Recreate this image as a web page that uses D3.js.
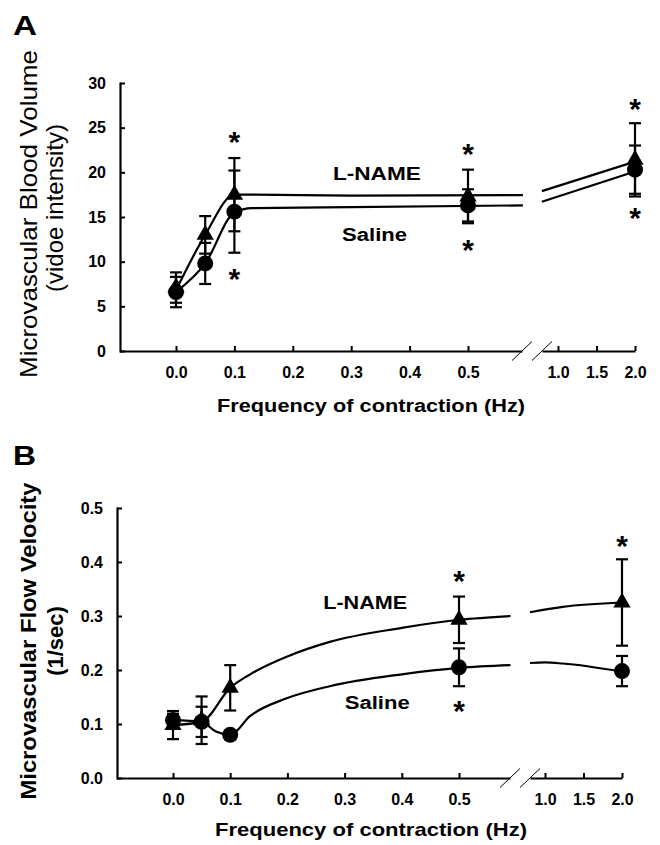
<!DOCTYPE html>
<html>
<head>
<meta charset="utf-8">
<script src="https://cdn.jsdelivr.net/npm/d3@7"></script>
<style>
  html, body { margin: 0; padding: 0; background: #fff; }
  svg { display: block; }
</style>
</head>
<body>
<svg id="chart" width="660" height="845"></svg>
<script>
// ---------------- DATA ----------------
const frequencies = [0.0, 0.05, 0.1, 0.5, 2.0];
const xTicksLeft = [0.0, 0.1, 0.2, 0.3, 0.4, 0.5];
const xTicksRight = [1.0, 1.5, 2.0];
const xTickLabelsLeft = ["0.0", "0.1", "0.2", "0.3", "0.4", "0.5"];
const xTickLabelsRight = ["1.0", "1.5", "2.0"];

// Panel A: microvascular blood volume
const volTicks = [0, 5, 10, 15, 20, 25, 30];
const volTickLabels = ["0", "5", "10", "15", "20", "25", "30"];
const volSalineMean = [6.6, 9.8, 15.6, 16.3, 20.3];
const volSalineErr  = [1.7, 2.3, 4.6, 1.8, 2.7];
const volLnameMean  = [7.1, 13.0, 17.5, 17.3, 21.4];
const volLnameErr   = [1.7, 2.1, 4.1, 3.0, 4.1];
// fitted curves
const volLnameFitX  = [0.0, 0.05, 0.1, 0.13, 0.3, 0.594];
const volLnameFitY  = [6.8, 13.0, 17.5, 17.5, 17.4, 17.45];
const volSalineFitX = [0.0, 0.05, 0.1, 0.13, 0.3, 0.594];
const volSalineFitY = [6.6, 9.8, 15.5, 16.0, 16.1, 16.3];
const volLnameFitRX  = [0.79, 2.0];
const volLnameFitRY  = [17.9, 21.2];
const volSalineFitRX = [0.79, 2.0];
const volSalineFitRY = [16.7, 20.1];
const volStarX = [0.1, 0.1, 0.5, 0.5, 2.0, 2.0];
const volStarY = [24.2, 8.85, 22.8, 12.1, 27.9, 15.7];

// Panel B: microvascular flow velocity
const velTicks = [0.0, 0.1, 0.2, 0.3, 0.4, 0.5];
const velTickLabels = ["0.0", "0.1", "0.2", "0.3", "0.4", "0.5"];
const velSalineMean = [0.107, 0.104, 0.080, 0.205, 0.198];
const velSalineErr  = [0.012, 0.028, 0.008, 0.035, 0.028];
const velLnameMean  = [0.098, 0.107, 0.167, 0.293, 0.325];
const velLnameErr   = [0.026, 0.044, 0.042, 0.043, 0.080];
const velLnameFitX  = [0.0, 0.05, 0.1, 0.135, 0.2, 0.274, 0.4, 0.5, 0.59];
const velLnameFitY  = [0.098, 0.104, 0.167, 0.192, 0.225, 0.252, 0.278, 0.293, 0.300];
const velSalineFitX = [0.0, 0.05, 0.075, 0.1, 0.135, 0.2, 0.274, 0.4, 0.5, 0.59];
const velSalineFitY = [0.107, 0.104, 0.086, 0.080, 0.115, 0.148, 0.170, 0.192, 0.204, 0.209];
const velLnameFitRX  = [0.805, 1.23, 2.0];
const velLnameFitRY  = [0.307, 0.317, 0.325];
const velSalineFitRX = [0.805, 1.0, 1.23, 2.0];
const velSalineFitRY = [0.213, 0.214, 0.212, 0.197];
const velStarX = [0.5, 0.5, 2.0];
const velStarY = [0.378, 0.137, 0.443];

const seriesNames = ["L-NAME", "Saline"];
const xTitle = "Frequency of contraction (Hz)";

// ---------------- DRAWING ----------------
const FONT = "'Liberation Sans', Arial, Helvetica, sans-serif";
const svg = d3.select("#chart");

function zip(xs, ys) { return xs.map((x, i) => [x, ys[i]]); }

function drawPanel(cfg) {
  const g = svg.append("g");
  const y = d3.scaleLinear().domain(cfg.yDomain).range([cfg.yBottom, cfg.yTop]);
  const xL = d3.scaleLinear().domain([0, 0.5]).range([cfg.x0, cfg.x05]);
  const xR = d3.scaleLinear().domain([1, 2]).range([cfg.x1, cfg.x2]);
  const xAt = f => (f <= 0.6 ? xL(f) : xR(f));

  const xLAxisScale = d3.scaleLinear().domain([xL.invert(cfg.yAxisX), xL.invert(cfg.leftEnd)]).range([cfg.yAxisX, cfg.leftEnd]);
  const xRAxisScale = d3.scaleLinear().domain([xR.invert(cfg.rightStart), 2]).range([cfg.rightStart, cfg.x2]);

  const styleAxis = sel => {
    sel.select(".domain").attr("stroke", "#000").attr("stroke-width", 2.2);
    sel.selectAll(".tick line").attr("stroke", "#000").attr("stroke-width", 2);
    sel.selectAll(".tick text").attr("font-family", FONT).attr("font-size", 16)
      .attr("font-weight", "bold").attr("fill", "#000");
  };

  const axL = g.append("g").attr("transform", `translate(0,${cfg.yBottom})`)
    .call(d3.axisBottom(xLAxisScale).tickValues(xTicksLeft)
      .tickFormat((d, i) => xTickLabelsLeft[i]).tickSizeInner(-5).tickSizeOuter(0).tickPadding(16));
  styleAxis(axL);
  const axR = g.append("g").attr("transform", `translate(0,${cfg.yBottom})`)
    .call(d3.axisBottom(xRAxisScale).tickValues(xTicksRight)
      .tickFormat((d, i) => xTickLabelsRight[i]).tickSizeInner(-5).tickSizeOuter(0).tickPadding(16));
  styleAxis(axR);
  const axY = g.append("g").attr("transform", `translate(${cfg.yAxisX},0)`)
    .call(d3.axisLeft(y).tickValues(cfg.yTicks)
      .tickFormat((d, i) => cfg.yTickLabels[i]).tickSizeInner(-5).tickSizeOuter(0).tickPadding(14));
  styleAxis(axY);
  axY.select(".domain").attr("stroke-linecap", "square");

  // break slashes
  [cfg.leftEnd, cfg.rightStart].forEach(cx => {
    g.append("line").attr("x1", cx - 10).attr("y1", cfg.yBottom + 9.5)
      .attr("x2", cx + 10).attr("y2", cfg.yBottom - 9.5)
      .attr("stroke", "#000").attr("stroke-width", 1);
  });

  // fitted curves
  const lineL = d3.line().x(d => xL(d[0])).y(d => y(d[1])).curve(d3.curveMonotoneX);
  const lineR = d3.line().x(d => xR(d[0])).y(d => y(d[1])).curve(d3.curveMonotoneX);
  [cfg.fits.lnameL, cfg.fits.salineL].forEach(pts => {
    g.append("path").attr("d", lineL(pts)).attr("fill", "none").attr("stroke", "#000").attr("stroke-width", 2.2);
  });
  [cfg.fits.lnameR, cfg.fits.salineR].forEach(pts => {
    g.append("path").attr("d", lineR(pts)).attr("fill", "none").attr("stroke", "#000").attr("stroke-width", 2.2);
  });

  // error bars
  const drawErr = (means, errs) => {
    frequencies.forEach((f, i) => {
      const cx = xAt(f), hi = y(means[i] + errs[i]), lo = y(means[i] - errs[i]);
      g.append("line").attr("x1", cx).attr("x2", cx).attr("y1", hi).attr("y2", lo)
        .attr("stroke", "#000").attr("stroke-width", 2.2);
      [hi, lo].forEach(yy => g.append("line").attr("x1", cx - 6).attr("x2", cx + 6)
        .attr("y1", yy).attr("y2", yy).attr("stroke", "#000").attr("stroke-width", 2.2));
    });
  };
  drawErr(cfg.saline.mean, cfg.saline.err);
  drawErr(cfg.lname.mean, cfg.lname.err);

  // markers
  frequencies.forEach((f, i) => {
    g.append("circle").attr("cx", xAt(f)).attr("cy", y(cfg.saline.mean[i])).attr("r", 8).attr("fill", "#000");
  });
  const tri = d3.symbol().type(d3.symbolTriangle).size(130);
  frequencies.forEach((f, i) => {
    g.append("path").attr("d", tri()).attr("transform", `translate(${xAt(f)},${y(cfg.lname.mean[i])})`).attr("fill", "#000");
  });

  // asterisks
  cfg.stars.forEach(([f, v]) => {
    g.append("text").attr("x", xAt(f)).attr("y", y(v) + 17).attr("text-anchor", "middle")
      .attr("font-family", FONT).attr("font-weight", "bold").attr("font-size", 30).text("*");
  });

  // series labels
  cfg.labels.forEach(lb => {
    g.append("text").attr("x", xL(lb.f)).attr("y", y(lb.v) + 6.4).attr("text-anchor", "middle")
      .attr("font-family", FONT).attr("font-weight", "bold").attr("font-size", 18)
      .attr("textLength", lb.len).attr("lengthAdjust", "spacingAndGlyphs").text(lb.text);
  });

  // panel letter
  g.append("text").attr("x", cfg.letterX).attr("y", cfg.letterY).attr("font-family", FONT)
    .attr("font-weight", "bold").attr("font-size", 28)
    .attr("textLength", cfg.letterLen).attr("lengthAdjust", "spacingAndGlyphs").text(cfg.letter);

  // y title
  cfg.yTitle.forEach(t => {
    const tx = g.append("text").attr("transform", `translate(${t.x},${t.y}) rotate(-90)`)
      .attr("text-anchor", "middle").attr("font-family", FONT)
      .attr("font-weight", t.bold ? "bold" : "normal").attr("font-size", t.size).text(t.text);
    if (t.len) tx.attr("textLength", t.len).attr("lengthAdjust", "spacingAndGlyphs");
  });

  // x title
  g.append("text").attr("x", cfg.xTitleX).attr("y", cfg.xTitleY).attr("text-anchor", "middle")
    .attr("font-family", FONT).attr("font-weight", "bold").attr("font-size", cfg.xTitleSize)
    .attr("textLength", cfg.xTitleLen).attr("lengthAdjust", "spacingAndGlyphs").text(xTitle);
}

drawPanel({
  letter: "A", letterX: 13, letterY: 35, letterLen: 24,
  yDomain: [0, 30], yTop: 83, yBottom: 351, yAxisX: 120,
  yTicks: volTicks, yTickLabels: volTickLabels,
  x0: 176, x05: 468, x1: 558, x2: 635, leftEnd: 522, rightStart: 542,
  saline: { mean: volSalineMean, err: volSalineErr },
  lname: { mean: volLnameMean, err: volLnameErr },
  fits: {
    lnameL: zip(volLnameFitX, volLnameFitY), salineL: zip(volSalineFitX, volSalineFitY),
    lnameR: zip(volLnameFitRX, volLnameFitRY), salineR: zip(volSalineFitRX, volSalineFitRY)
  },
  stars: zip(volStarX, volStarY),
  labels: [
    { text: seriesNames[0], f: 0.344, v: 19.9, len: 88 },
    { text: seriesNames[1], f: 0.340, v: 13.0, len: 65 }
  ],
  yTitle: [
    { text: "Microvascular Blood Volume", x: 37, y: 214, size: 24, bold: false, len: 328 },
    { text: "(vidoe intensity)", x: 63, y: 208, size: 24, bold: false }
  ],
  xTitleX: 371, xTitleY: 412, xTitleSize: 18, xTitleLen: 308
});

drawPanel({
  letter: "B", letterX: 13, letterY: 465, letterLen: 23,
  yDomain: [0, 0.5], yTop: 508, yBottom: 778, yAxisX: 117,
  yTicks: velTicks, yTickLabels: velTickLabels,
  x0: 173, x05: 459, x1: 545, x2: 622, leftEnd: 510, rightStart: 530,
  saline: { mean: velSalineMean, err: velSalineErr },
  lname: { mean: velLnameMean, err: velLnameErr },
  fits: {
    lnameL: zip(velLnameFitX, velLnameFitY), salineL: zip(velSalineFitX, velSalineFitY),
    lnameR: zip(velLnameFitRX, velLnameFitRY), salineR: zip(velSalineFitRX, velSalineFitRY)
  },
  stars: zip(velStarX, velStarY),
  labels: [
    { text: seriesNames[0], f: 0.336, v: 0.324, len: 84 },
    { text: seriesNames[1], f: 0.357, v: 0.139, len: 65 }
  ],
  yTitle: [
    { text: "Microvascular Flow Velocity", x: 36, y: 641, size: 22, bold: true, len: 317 },
    { text: "(1/sec)", x: 63, y: 641, size: 22, bold: true }
  ],
  xTitleX: 371, xTitleY: 836, xTitleSize: 19, xTitleLen: 312
});
</script>
</body>
</html>
